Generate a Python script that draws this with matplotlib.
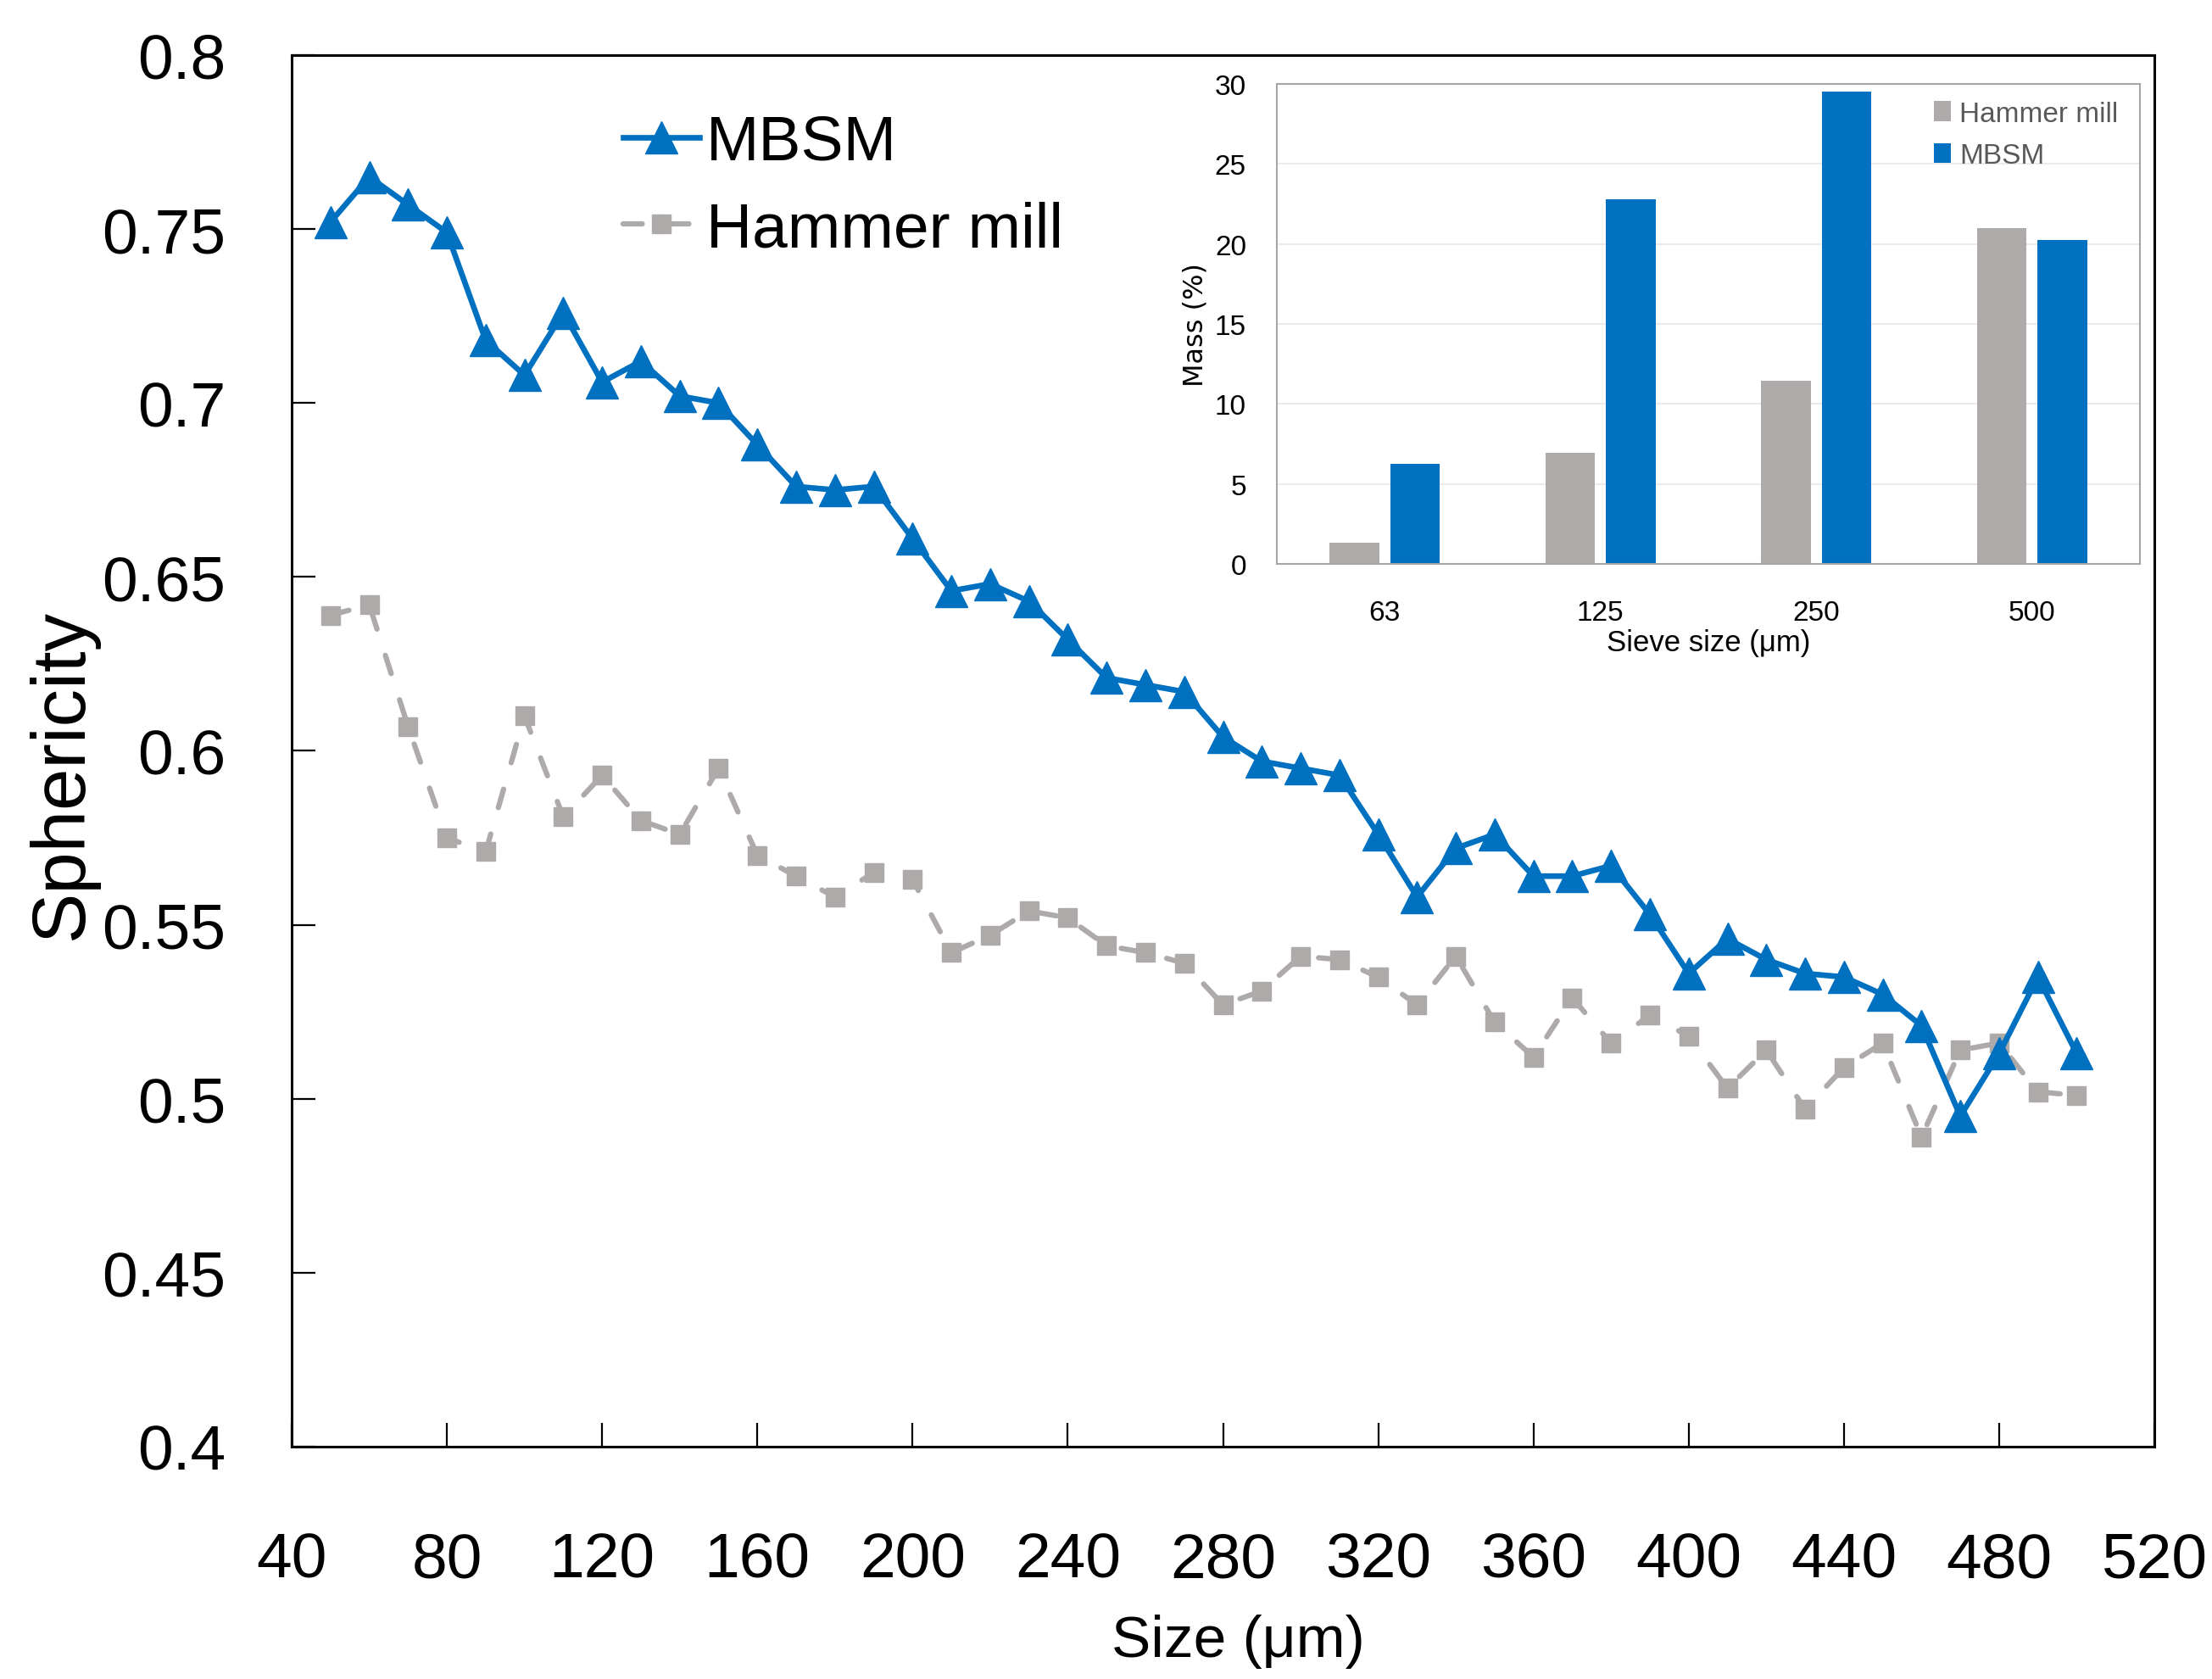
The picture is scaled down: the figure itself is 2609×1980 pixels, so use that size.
import numpy as np
import matplotlib
matplotlib.use("Agg")
import matplotlib.pyplot as plt
from matplotlib.ticker import FuncFormatter, MultipleLocator

# particle size (um) and sphericity
size = list(range(50, 501, 10))
mbsm = [0.752, 0.765, 0.757, 0.749, 0.718, 0.708, 0.726, 0.706, 0.712, 0.702,
        0.700, 0.688, 0.676, 0.675, 0.676, 0.661, 0.646, 0.648, 0.643, 0.632,
        0.621, 0.619, 0.617, 0.604, 0.597, 0.595, 0.593, 0.576, 0.558, 0.572,
        0.576, 0.564, 0.564, 0.567, 0.553, 0.536, 0.546, 0.540, 0.536, 0.535,
        0.530, 0.521, 0.495, 0.513, 0.535, 0.513]
hammer = [0.639, 0.642, 0.607, 0.575, 0.571, 0.610, 0.581, 0.593, 0.580, 0.576,
          0.595, 0.570, 0.564, 0.558, 0.565, 0.563, 0.542, 0.547, 0.554, 0.552,
          0.544, 0.542, 0.539, 0.527, 0.531, 0.541, 0.540, 0.535, 0.527, 0.541,
          0.522, 0.512, 0.529, 0.516, 0.524, 0.518, 0.503, 0.514, 0.497, 0.509,
          0.516, 0.489, 0.514, 0.516, 0.502, 0.501]

# inset: sieve fractions
sieve = ['63', '125', '250', '500']
mass_hammer = [1.3, 6.95, 11.45, 21.0]
mass_mbsm = [6.25, 22.8, 29.5, 20.25]

BLUE = '#0070C0'
GREY = '#AEAAAA'
FS = 54

plt.rcParams['font.family'] = ['Liberation Sans', 'DejaVu Sans']

fig = plt.figure(figsize=(26.09, 19.81), dpi=100)
ax = fig.add_axes([344 / 2609, 1 - 1707 / 1981, 2197 / 2609, 1641 / 1981])

ax.plot(size, mbsm, color=BLUE, lw=4.8, marker='^', ms=27, label='MBSM', zorder=3)
ax.plot(size, hammer, color=GREY, lw=4.5, ls=(0, (3.6, 5.2)), dash_capstyle='round',
        marker='s', ms=16, label='Hammer mill', zorder=2)

ax.set_xlim(40, 520)
ax.set_ylim(0.4, 0.8)
ax.xaxis.set_major_locator(MultipleLocator(40))
ax.yaxis.set_major_locator(MultipleLocator(0.05))
ax.yaxis.set_major_formatter(FuncFormatter(lambda v, p: '%g' % round(v, 2)))

for s in ax.spines.values():
    s.set_linewidth(2.2)
ax.tick_params(direction='in', length=20, width=1.6, labelsize=FS)
ax.tick_params(axis='y', pad=56)
ax.tick_params(axis='x', pad=72)

ax.set_xlabel('Size (μm)', fontsize=50)
ax.xaxis.set_label_coords(0.508, -0.12)
ax.set_ylabel('Sphericity', fontsize=64)
ax.yaxis.set_label_coords(-0.104, 0.484)

ax.legend(loc='upper left', bbox_to_anchor=(0.178, 0.958), frameon=False, fontsize=FS,
          handlelength=1.2, handletextpad=0.1, labelspacing=0.45,
          borderpad=0, borderaxespad=0)

# inset bar chart
ins = fig.add_axes([1506 / 2609, 1 - 666 / 1981, 1018 / 2609, 566 / 1981])
x = np.arange(len(sieve))
ins.bar(x - 0.14, mass_hammer, width=0.23, color=GREY, label='Hammer mill', zorder=2)
ins.bar(x + 0.14, mass_mbsm, width=0.23, color=BLUE, label='MBSM', zorder=2)
ins.set_xlim(-0.5, 3.5)
ins.set_ylim(0, 30)
ins.set_xticks(x)
ins.set_xticklabels(sieve)
ins.yaxis.set_major_locator(MultipleLocator(5))
ins.grid(axis='y', color='#E6E6E6', lw=1.2, zorder=0)
ins.set_axisbelow(True)
for s in ins.spines.values():
    s.set_color('#A6A6A6')
    s.set_linewidth(1.5)
ins.tick_params(length=0, labelsize=24)
ins.tick_params(axis='y', pad=26)
ins.tick_params(axis='x', pad=30)

ins.set_ylabel('Mass (%)', family='DejaVu Sans', fontsize=23)
ins.yaxis.set_label_coords(-0.079, 0.5)
ins.set_xlabel('Sieve size (μm)', fontsize=25)
ins.xaxis.set_label_coords(0.5, -0.135)

ins.legend(loc='upper right', bbox_to_anchor=(0.975, 0.965), frameon=False, fontsize=24,
           handlelength=0.6, handleheight=0.7, handletextpad=0.3, labelspacing=0.55,
           borderpad=0, borderaxespad=0, labelcolor='#595959')

fig.savefig('out.png', dpi=100)
